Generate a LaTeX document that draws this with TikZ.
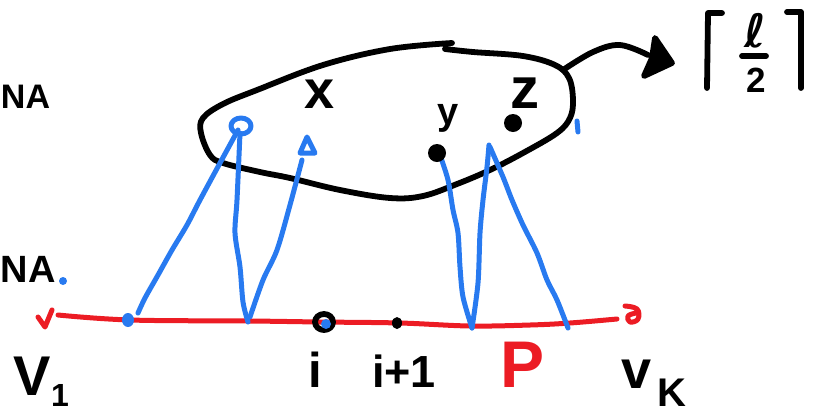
\documentclass[tikz,border=0pt]{standalone}
\usepackage{fontspec}
\setmainfont{Liberation Sans}
\newfontfamily\dvsans{DejaVu Sans}
\definecolor{penblue}{RGB}{40,122,240}
\definecolor{penred}{RGB}{236,28,36}
\begin{document}
\begin{tikzpicture}[x=1pt,y=-1pt,
  ink/.style={line width=5.8pt,line cap=round,line join=round},
  blobline/.style={ink,black},
  blueline/.style={line width=5pt,line cap=round,line join=round,penblue},
  redline/.style={line width=5pt,line cap=round,line join=round,penred},
  lbl/.style={inner sep=0pt,outer sep=0pt},
  fs/.style={font=\fontsize{#1}{#1}\selectfont\bfseries}]
\useasboundingbox (0,0) rectangle (816,416);
% red path P
\draw[redline] plot[smooth,tension=0.6] coordinates {(58,315) (130,320) (250,321) (320,322) (400,323) (470,326) (530,325) (570,323) (617,319)};
\draw[redline] (38,317) -- (45,327) -- (52,310);
\draw[redline] plot[smooth,tension=0.7] coordinates {(625,306) (637,309) (638,319) (630,322) (628,316) (636,313)};
% blob
\draw[blobline] plot[smooth,tension=0.6] coordinates {(452,43) (390,49) (323,65) (257,90) (223,104) (203,118) (201,133) (210,155) (223,163) (260,172) (290,178) (340,190) (390,198) (423,196) (457,184) (490,170) (523,153) (557,133) (570,118) (573,100) (569,78) (555,65) (523,56) (473,52) (445,49)};
% arrow to ceiling
\draw[ink] plot[smooth,tension=0.6] coordinates {(563,70) (593,52) (620,45) (648,55)};
\draw[ink,fill=black] (655,38) -- (672,63) -- (644,76) -- (652,58) -- cycle;
% ceiling l/2
\draw[ink] (722,13) -- (708,13) -- (707,88);
\draw[ink] (787,12) -- (801,12) -- (801,88);
\node[lbl,fs=46,anchor=base] (ell) at (755,47) {\dvsans\bfseries ℓ};
\draw[ink] (742,56) -- (766,56);
\node[lbl,fs=35,anchor=base] (two) at (756,92) {2};
% blue connectors
\draw[blueline] plot[smooth,tension=0.5] coordinates {(138,313) (145,298) (158,275) (172,250) (187,225) (200,200) (220,163) (238,130)};
\draw[blueline] plot[smooth,tension=0.5] coordinates {(248,322) (243,302) (240,267) (235,233) (237,200) (240,133)};
\draw[blueline] plot[smooth,tension=0.5] coordinates {(250,317) (263,280) (277,250) (290,205) (302,160)};
\draw[blueline] (300,153) -- (307,137) -- (315,153) -- cycle;
\draw[blueline] (241,126) ellipse[x radius=10,y radius=8];
\draw[blueline] plot[smooth,tension=0.5] coordinates {(472,328) (463,297) (460,267) (458,233) (453,210) (448,180) (440,155)};
\draw[blueline] plot[smooth,tension=0.5] coordinates {(472,328) (478,283) (480,233) (483,200) (487,167) (489,145)};
\draw[blueline] plot[smooth,tension=0.5] coordinates {(568,328) (557,300) (547,280) (537,253) (523,225) (512,200) (503,177) (490,147)};
\draw[blueline] (577,121) -- (578,132);
\fill[penblue] (128,320) ellipse[x radius=6,y radius=7];
\fill[penblue] (63,281) circle[radius=4];
% black dots
\fill (437,153) circle[radius=9];
\fill (513,123) circle[radius=9];
\fill (397,323) ellipse[x radius=5,y radius=6];
\draw[ink] (324,322) ellipse[x radius=9,y radius=8];
\fill[penblue] (326,324) circle[radius=5];
% labels
\node[lbl,fs=54,anchor=base] (x) at (320,108) {x};
\node[lbl,fs=38,anchor=base] (y) at (448,124) {y};
\node[lbl,fs=58,anchor=base] (z) at (525,108) {z};
\node[lbl,fs=34,anchor=base west] (na1) at (1,108) {NA};
\node[lbl,fs=38,anchor=base west] (na2) at (1,282) {NA};
\node[lbl,fs=56,anchor=base] (v1) at (32,395) {V};
\node[lbl,fs=32,anchor=base] (v1s) at (60,406) {1};
\node[lbl,fs=49,anchor=base] (i) at (315,387) {i};
\node[lbl,fs=45,anchor=base] (ip1) at (404,387) {i+1};
\node[lbl,fs=66,anchor=base,text=penred] (P) at (523,387) {P};
\node[lbl,fs=54,anchor=base] (vk) at (637,388) {v};
\node[lbl,fs=40,anchor=base] (vks) at (672,406) {K};
\end{tikzpicture}
\end{document}
